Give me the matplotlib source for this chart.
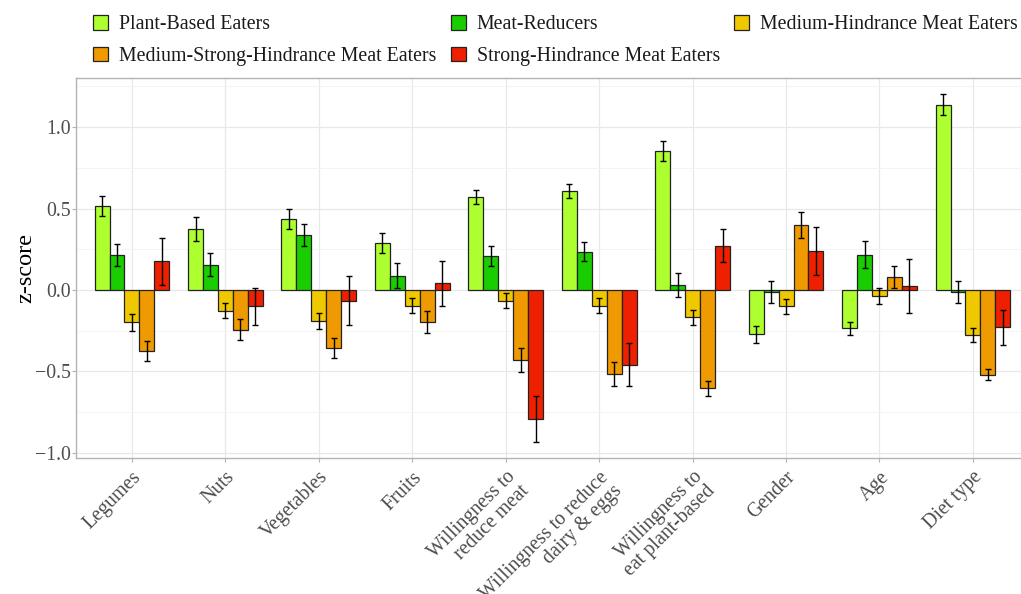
import matplotlib
matplotlib.use("Agg")
import matplotlib.pyplot as plt
import numpy as np
from matplotlib.patches import Patch

categories = ["Legumes", "Nuts", "Vegetables", "Fruits",
              "Willingness to\nreduce meat", "Willingness to reduce\ndairy & eggs",
              "Willingness to\neat plant-based", "Gender", "Age", "Diet type"]

groups = ["Plant-Based Eaters", "Meat-Reducers", "Medium-Hindrance Meat Eaters",
          "Medium-Strong-Hindrance Meat Eaters", "Strong-Hindrance Meat Eaters"]

plant_based = [0.516, 0.373, 0.434, 0.289, 0.572, 0.607, 0.852, -0.273, -0.236, 1.137]
meat_reducers = [0.213, 0.156, 0.336, 0.088, 0.209, 0.236, 0.029, -0.012, 0.215, -0.012]
medium_hind = [-0.199, -0.127, -0.190, -0.096, -0.066, -0.096, -0.168, -0.100, -0.035, -0.277]
med_strong_hind = [-0.373, -0.244, -0.357, -0.197, -0.430, -0.518, -0.604, 0.398, 0.080, -0.520]
strong_hind = [0.176, -0.100, -0.066, 0.041, -0.791, -0.459, 0.273, 0.240, 0.027, -0.230]

plant_based_err = [0.063, 0.072, 0.060, 0.063, 0.043, 0.043, 0.060, 0.054, 0.042, 0.065]
meat_reducers_err = [0.067, 0.073, 0.067, 0.077, 0.061, 0.061, 0.073, 0.069, 0.083, 0.069]
medium_hind_err = [0.050, 0.046, 0.049, 0.048, 0.047, 0.047, 0.046, 0.047, 0.049, 0.041]
med_strong_hind_err = [0.062, 0.063, 0.062, 0.067, 0.073, 0.074, 0.047, 0.078, 0.065, 0.034]
strong_hind_err = [0.145, 0.114, 0.150, 0.138, 0.143, 0.131, 0.101, 0.145, 0.166, 0.110]

yticks = [-1.0, -0.5, 0.0, 0.5, 1.0]
ytick_labels = ["\u22121.0", "\u22120.5", "0.0", "0.5", "1.0"]

colors = ["#ADFF2F", "#19CD00", "#F0C800", "#EE9A00", "#EE2000"]

values = [plant_based, meat_reducers, medium_hind, med_strong_hind, strong_hind]
errors = [plant_based_err, meat_reducers_err, medium_hind_err, med_strong_hind_err, strong_hind_err]

FONT = "Liberation Serif"
TXT = "#4D4D4D"
FS = 14.3

W, H = 1021, 594
fig = plt.figure(figsize=(W / 100, H / 100), dpi=100)
ax_left, ax_right, ax_top, ax_bot = 75.9, 1029.0, 77.5, 458.0
ax = fig.add_axes([ax_left / W, 1 - ax_bot / H, (ax_right - ax_left) / W, (ax_bot - ax_top) / H])

x = np.arange(1, len(categories) + 1)
n = len(groups)
bw = 0.16
for i in range(n):
    pos = x + (i - (n - 1) / 2) * bw
    ax.bar(pos, values[i], width=bw, color=colors[i], edgecolor="#222222",
           linewidth=0.9, zorder=3, label=groups[i])
    ax.errorbar(pos, values[i], yerr=errors[i], fmt="none", ecolor="black",
                elinewidth=1.0, capsize=2.2, capthick=1.0, zorder=4)

ax.set_xlim(0.4, 10.6)
ax.set_ylim(-1.031, 1.304)
ax.set_yticks(yticks)
ax.set_yticklabels(ytick_labels, fontfamily=FONT, fontsize=FS, color=TXT)
ax.set_yticks([-0.75, -0.25, 0.25, 0.75, 1.25], minor=True)
ax.set_xticks(x)
ax.set_xticklabels(categories, rotation=45, ha="right", va="top",
                   rotation_mode="anchor", multialignment="right",
                   fontfamily=FONT, fontsize=FS, color=TXT, linespacing=1.0)
ax.tick_params(axis="y", which="major", length=2.7, width=0.8, color="#B3B3B3", pad=1.2)
ax.tick_params(axis="x", which="major", length=3.0, width=0.8, color="#B3B3B3", pad=4)
ax.tick_params(axis="y", which="minor", length=0)
ax.grid(which="major", color="#E8E8E8", linewidth=0.9, zorder=0)
ax.grid(which="minor", axis="y", color="#F3F3F3", linewidth=0.6, zorder=0)
ax.set_axisbelow(True)
for s in ["left", "top", "bottom", "right"]:
    ax.spines[s].set_color("#B3B3B3")
    ax.spines[s].set_linewidth(1.0)

ax.set_ylabel("z-score", fontfamily=FONT, fontsize=17.5, color="black", labelpad=-1)

handles = [Patch(facecolor=colors[i], edgecolor="#222222", linewidth=0.9) for i in range(n)]
order = [0, 3, 1, 4, 2]
leg = fig.legend([handles[k] for k in order], [groups[k] for k in order],
                 ncol=3, loc="upper left", bbox_to_anchor=(85 / W, 1 - 7 / H),
                 frameon=False, prop={"family": FONT, "size": FS},
                 handlelength=0.76, handleheight=0.76, handletextpad=0.55,
                 columnspacing=0.72, labelspacing=0.62, borderaxespad=0)
for t in leg.get_texts():
    t.set_color("#1A1A1A")

fig.savefig("out.png", dpi=100)
